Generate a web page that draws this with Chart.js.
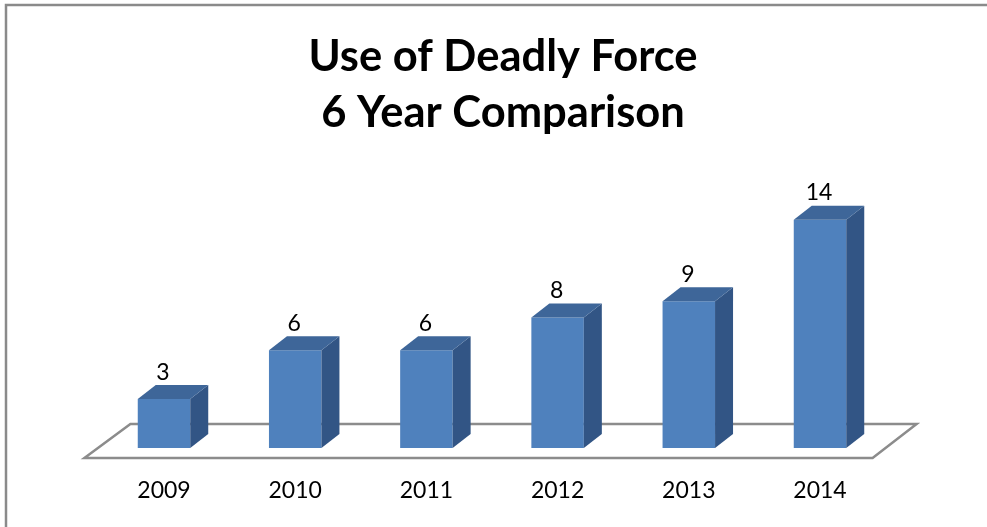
<!DOCTYPE html>
<html>
<head>
<meta charset="utf-8">
<title>Use of Deadly Force</title>
<script src="https://cdn.jsdelivr.net/npm/chart.js@4.4.1/dist/chart.umd.min.js"></script>
<style>
  html, body { margin: 0; padding: 0; background: #fff; }
  #wrap { width: 987px; height: 527px; }
</style>
</head>
<body>
<div id="wrap"><canvas id="forceChart" width="987" height="527"></canvas></div>
<script>
// Incidents per year
const years = ['2009', '2010', '2011', '2012', '2013', '2014'];
const incidents = [3, 6, 6, 8, 9, 14];
const titleLines = ['Use of Deadly Force', '6 Year Comparison'];

const FONT = 'Lato, "Open Sans", sans-serif';
const FRONT = '#4F81BD';
const TOP = '#3E6699';
const SIDE = '#325585';
const DEPTH_X = 18;
const DEPTH_Y = -14;

// Frame, title and the floor are drawn under the bars
const backdrop = {
  id: 'backdrop',
  beforeDatasetsDraw(chart) {
    const ctx = chart.ctx;
    const ca = chart.chartArea;
    ctx.save();

    // outer frame
    ctx.strokeStyle = '#8a8a8a';
    ctx.lineWidth = 2.5;
    ctx.strokeRect(6, 5, 1000, 560);

    // title
    ctx.fillStyle = '#000';
    ctx.font = 'bold 43.5px ' + FONT;
    ctx.textAlign = 'center';
    ctx.textBaseline = 'alphabetic';
    ctx.fillText(titleLines[0], 503, 71);
    ctx.fillText(titleLines[1], 503, 127);

    // floor
    ctx.strokeStyle = '#8c8c8c';
    ctx.lineWidth = 2.5;
    ctx.beginPath();
    ctx.moveTo(ca.left - 14, ca.bottom + 10);
    ctx.lineTo(ca.right - 13, ca.bottom + 10);
    ctx.lineTo(ca.right + 31, ca.bottom - 24);
    ctx.lineTo(ca.left + 32, ca.bottom - 24);
    ctx.closePath();
    ctx.stroke();
    ctx.restore();
  }
};

// Top and side faces plus the value above each bar
const bars3d = {
  id: 'bars3d',
  afterDatasetsDraw(chart) {
    const ctx = chart.ctx;
    const meta = chart.getDatasetMeta(0);
    ctx.save();
    meta.data.forEach(function(bar, i) {
      const p = bar.getProps(['x', 'y', 'base', 'width'], true);
      const l = p.x - p.width / 2;
      const r = p.x + p.width / 2;

      ctx.fillStyle = SIDE;
      ctx.beginPath();
      ctx.moveTo(r, p.y);
      ctx.lineTo(r + DEPTH_X, p.y + DEPTH_Y);
      ctx.lineTo(r + DEPTH_X, p.base + DEPTH_Y);
      ctx.lineTo(r, p.base);
      ctx.closePath();
      ctx.fill();

      ctx.fillStyle = TOP;
      ctx.beginPath();
      ctx.moveTo(l, p.y);
      ctx.lineTo(l + DEPTH_X, p.y + DEPTH_Y);
      ctx.lineTo(r + DEPTH_X, p.y + DEPTH_Y);
      ctx.lineTo(r, p.y);
      ctx.closePath();
      ctx.fill();

      ctx.fillStyle = '#000';
      ctx.font = '23px ' + FONT;
      ctx.textAlign = 'center';
      ctx.textBaseline = 'middle';
      ctx.fillText(String(incidents[i]), p.x - 1, p.y - 27);
    });
    ctx.restore();
  }
};

new Chart(document.getElementById('forceChart').getContext('2d'), {
  type: 'bar',
  data: {
    labels: years,
    datasets: [{
      label: 'Incidents',
      data: incidents,
      backgroundColor: FRONT,
      borderWidth: 0,
      barPercentage: 0.8,
      categoryPercentage: 0.5
    }]
  },
  options: {
    responsive: false,
    animation: false,
    layout: {
      padding: { left: 98.4, right: 101.4, top: 187.2, bottom: 0 }
    },
    plugins: {
      legend: { display: false },
      title: { display: false },
      tooltip: { enabled: false }
    },
    scales: {
      y: { display: false, min: 0, max: 16 },
      x: {
        grid: { display: false, drawTicks: false },
        border: { display: false },
        ticks: {
          color: '#000',
          padding: 29,
          font: { family: FONT, size: 23 }
        },
        afterFit(scale) { scale.height = 79; }
      }
    }
  },
  plugins: [backdrop, bars3d]
});
</script>
</body>
</html>
